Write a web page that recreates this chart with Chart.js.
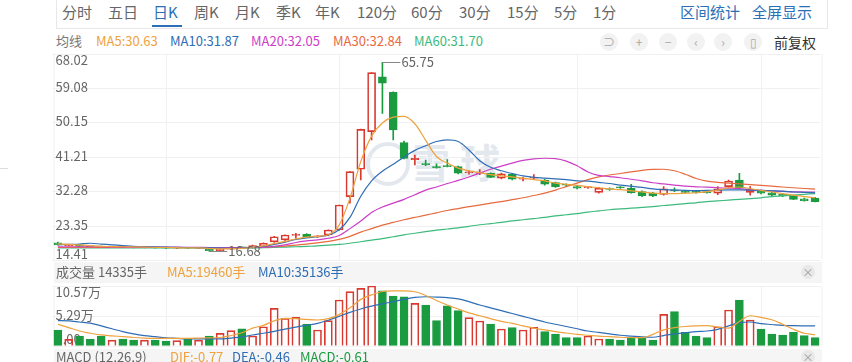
<!DOCTYPE html>
<html lang="zh-CN">
<head>
<meta charset="utf-8">
<title>日K</title>
<script src="https://cdn.jsdelivr.net/npm/chart.js@4.4.1/dist/chart.umd.min.js"></script>
<style>
  html, body { margin: 0; padding: 0; background: #fff; }
  body { width: 852px; height: 362px; position: relative; overflow: hidden;
         font-family: "Noto Sans CJK SC", "Noto Sans", sans-serif; color: #666; }
  .t { position: absolute; white-space: nowrap; }
  #tabs { position: absolute; left: 56px; top: 0; width: 772px; height: 29px;
          border: 1px solid #e8e8e8; border-top: 0; box-sizing: border-box; }
  .tab { top: 0; font-size: 15px; line-height: 24px; color: #666; }
  .blue { color: #2b6fb6; }
  #underline { position: absolute; left: 152px; top: 25px; width: 30px; height: 2px; background: #2b6fb6; }
  .ma { top: 32px; font-size: 13px; line-height: 18px; }
  .icon { position: absolute; width: 18px; height: 18px; border-radius: 9px; background: #f2f2f2;
          color: #a8a8a8; font-size: 12px; line-height: 18px; text-align: center; top: 33px; }
  .band { position: absolute; left: 54px; width: 768px; background: #f5f5f5; }
  .hd { font-size: 13px; line-height: 19px; }
  .close { position: absolute; width: 14px; height: 14px; border-radius: 7px; background: #e8e8e8;
           color: #999; font-size: 11px; line-height: 14px; text-align: center; }
  canvas { position: absolute; left: 0; }
  #kline { top: 45px; }
  #vol { top: 284px; }
  #ring { position: absolute; left: 366px; top: 142px; width: 36px; height: 36px; border-radius: 22px;
          border: 4px solid #e3e8ef; }
  #mark { left: 410px; top: 136px; font-size: 40px; line-height: 50px; color: #e3e8ef;
          font-weight: bold; letter-spacing: 10px; }
</style>
</head>
<body>
<div id="tabs"></div>
<span class="t tab" style="left:62px">分时</span>
<span class="t tab" style="left:108px">五日</span>
<span class="t tab blue" style="left:153px">日K</span>
<span class="t tab" style="left:194px">周K</span>
<span class="t tab" style="left:235px">月K</span>
<span class="t tab" style="left:276px">季K</span>
<span class="t tab" style="left:315px">年K</span>
<span class="t tab" style="left:357px">120分</span>
<span class="t tab" style="left:411px">60分</span>
<span class="t tab" style="left:459px">30分</span>
<span class="t tab" style="left:507px">15分</span>
<span class="t tab" style="left:554px">5分</span>
<span class="t tab" style="left:593px">1分</span>
<span class="t tab blue" style="left:680px">区间统计</span>
<span class="t tab blue" style="left:752px">全屏显示</span>
<div id="underline"></div>

<span class="t ma" style="left:56px;color:#777">均线</span>
<span class="t ma" id="ma5-txt" style="left:96px;color:#eea23e"></span>
<span class="t ma" id="ma10-txt" style="left:170px;color:#2f6db5"></span>
<span class="t ma" id="ma20-txt" style="left:251px;color:#cc3ec6"></span>
<span class="t ma" id="ma30-txt" style="left:333px;color:#e86a3f"></span>
<span class="t ma" id="ma60-txt" style="left:414px;color:#3dba7e"></span>
<span class="icon" style="left:600px">⊃</span>
<span class="icon" style="left:630px">+</span>
<span class="icon" style="left:659px">−</span>
<span class="icon" style="left:687px">‹</span>
<span class="icon" style="left:714px">›</span>
<span class="icon" style="left:744px">▯</span>
<span class="t" style="left:774px;top:32px;font-size:14px;line-height:20px;color:#333">前复权</span>

<div style="position:absolute;left:0;top:168px;width:8px;height:1px;background:#ddd"></div>
<div id="ring"></div>
<span class="t" id="mark">雪球</span>

<canvas id="kline" width="852" height="220"></canvas>

<div class="band" style="top:262px;height:21px"></div>
<span class="t hd" id="vol-txt" style="left:56px;top:262px;color:#666"></span>
<span class="t hd" id="vma5-txt" style="left:167px;top:262px;color:#eea23e"></span>
<span class="t hd" id="vma10-txt" style="left:258px;top:262px;color:#2f6db5"></span>
<span class="close" style="left:801px;top:265px">×</span>

<canvas id="vol" width="852" height="66"></canvas>

<div class="band" style="top:349px;height:14px"></div>
<span class="t hd" style="left:56px;top:347px;color:#666">MACD (12,26,9)</span>
<span class="t hd" style="left:170px;top:347px;color:#eea23e">DIF:-0.77</span>
<span class="t hd" style="left:232px;top:347px;color:#2f6db5">DEA:-0.46</span>
<span class="t hd" style="left:300px;top:347px;color:#1b9b40">MACD:-0.61</span>
<span class="close" style="left:801px;top:350px">×</span>

<script>
// daily candles, oldest first
const opens = [18.9, 18.2, 18.4, 18.1, 17.95, 17.8, 17.9, 17.8, 17.7, 17.8,
  17.6, 17.5, 17.6, 17.5, 17.2, 16.9, 17.3, 17.8, 17.6, 17.9,
  19.2, 19.7, 20.85, 21.1, 20.45, 20.95, 22.24, 30.9, 38.0, 47.74,
  62.0, 57.96, 44.89, 40.5, 39.4, 38.6, 38.9, 38.66, 37.1, 36.9,
  36.95, 35.7, 36.7, 35.4, 35.7, 35.21, 34.53, 34.0, 33.5, 33.2,
  32.0, 33.0, 33.25, 33.06, 32.2, 31.8, 31.5, 32.6, 32.15, 32.15,
  32.1, 31.8, 33.5, 35.2, 32.0, 32.4, 31.9, 31.5, 31.06, 30.3, 30.5];
const highs = [19.1, 18.5, 18.5, 18.2, 18.1, 18.0, 18.0, 17.9, 17.9, 17.9,
  17.7, 17.7, 17.7, 17.7, 17.3, 17.4, 17.9, 17.9, 18.3, 18.9,
  20.6, 21.0, 21.4, 21.3, 20.8, 22.3, 28.73, 37.4, 48.4, 63.04,
  65.75, 58.1, 45.33, 41.7, 40.4, 39.4, 40.5, 38.8, 37.6, 37.9,
  37.1, 37.0, 36.9, 35.9, 36.6, 35.4, 34.7, 34.2, 33.7, 33.6,
  33.3, 33.2, 33.5, 34.1, 32.4, 32.0, 33.5, 33.2, 32.4, 32.3,
  32.3, 33.5, 35.2, 36.95, 33.5, 32.6, 32.1, 31.7, 31.2, 30.5, 30.7];
const lows = [18.3, 18.1, 17.9, 17.8, 17.7, 17.7, 17.7, 17.6, 17.6, 17.5,
  17.4, 17.4, 17.4, 17.4, 16.68, 16.8, 17.2, 17.5, 17.5, 17.8,
  19.0, 19.5, 20.1, 20.4, 20.3, 20.8, 22.2, 29.2, 35.2, 45.6,
  52.5, 45.6, 40.7, 39.1, 38.9, 38.3, 38.6, 36.8, 36.7, 36.6,
  35.8, 35.5, 35.2, 35.0, 35.4, 33.9, 33.3, 33.7, 32.9, 33.0,
  31.8, 32.5, 33.0, 31.8, 30.9, 30.9, 31.3, 32.2, 31.8, 31.8,
  31.8, 31.4, 33.3, 32.9, 31.3, 31.6, 31.1, 30.9, 30.1, 29.7, 29.5];
const closes = [18.4, 18.4, 18.0, 17.9, 17.8, 17.9, 17.8, 17.7, 17.8, 17.6,
  17.5, 17.6, 17.5, 17.6, 16.85, 17.3, 17.8, 17.6, 18.2, 18.8,
  20.5, 20.95, 20.95, 20.5, 20.6, 22.24, 28.73, 37.37, 48.36, 63.04,
  60.3, 48.18, 40.84, 40.8, 39.2, 38.4, 38.7, 36.95, 37.3, 37.05,
  35.9, 36.8, 35.4, 35.55, 35.85, 34.1, 33.48, 33.85, 33.06, 33.35,
  33.06, 32.75, 33.15, 31.92, 31.14, 31.1, 32.9, 32.4, 32.0, 32.0,
  31.95, 32.9, 34.95, 33.06, 32.8, 31.8, 31.3, 31.06, 30.2, 29.85, 29.6];

// moving averages as drawn on the chart
const ma5 = [18.6, 18.5, 18.4, 18.2, 18.0, 17.95, 17.9, 17.85, 17.8, 17.75,
  17.7, 17.65, 17.6, 17.6, 17.45, 17.35, 17.4, 17.5, 17.7, 18.1,
  18.7, 19.3, 19.9, 20.4, 20.6, 21.0, 23.5, 30.5, 40.0, 46.6,
  50.0, 51.5, 51.7, 49.8, 45.5, 41.3, 39.6, 38.3, 37.6, 37.1,
  36.6, 36.3, 36.0, 35.7, 35.3, 35.0, 34.4, 34.1, 33.8, 33.5,
  33.2, 32.9, 32.7, 32.4, 32.1, 31.8, 31.7, 31.7, 31.8, 31.9,
  32.2, 32.6, 33.2, 33.4, 33.0, 32.5, 32.1, 31.7, 31.3, 30.9, 30.63];
const ma10 = [18.4, 18.5, 18.6, 18.8, 18.6, 18.4, 18.2, 18.0, 17.9, 17.85,
  17.8, 17.75, 17.7, 17.65, 17.6, 17.55, 17.5, 17.55, 17.7, 18.0,
  18.5, 19.1, 19.8, 20.2, 20.5, 20.9, 22.3, 25.5, 31.0, 35.0,
  37.5, 39.3, 41.2, 42.9, 44.1, 45.2, 45.6, 45.2, 43.0, 40.2,
  38.5, 37.6, 36.9, 36.3, 35.9, 35.7, 35.5, 35.3, 35.0, 34.9,
  34.6, 34.3, 33.9, 33.6, 33.3, 32.9, 32.7, 32.6, 32.5, 32.45,
  32.5, 32.6, 32.65, 32.65, 32.6, 32.5, 32.4, 32.3, 32.1, 32.0, 31.87];
const ma20 = [17.9, 17.9, 17.9, 17.9, 17.9, 17.85, 17.85, 17.8, 17.8, 17.8,
  17.8, 17.8, 17.75, 17.75, 17.7, 17.7, 17.7, 17.7, 17.7, 17.8,
  18.0, 18.4, 19.0, 19.4, 19.7, 20.1, 20.8, 22.6, 24.6, 26.8,
  28.2, 29.2, 30.2, 31.4, 32.6, 33.4, 34.3, 35.1, 36.0, 37.0,
  38.0, 38.8, 39.6, 40.3, 40.7, 40.85, 40.75, 40.1, 38.9, 37.3,
  36.4, 36.1, 35.8, 35.4, 35.0, 34.5, 34.2, 33.9, 33.6, 33.45,
  33.35, 33.2, 33.1, 33.0, 32.7, 32.55, 32.4, 32.25, 32.15, 32.1, 32.05];
const ma30 = [17.7, 17.7, 17.7, 17.7, 17.7, 17.7, 17.7, 17.7, 17.7, 17.7,
  17.7, 17.7, 17.7, 17.7, 17.7, 17.7, 17.7, 17.7, 17.75, 17.8,
  17.9, 18.05, 18.3, 18.6, 18.9, 19.3, 19.8, 20.6, 21.7, 22.6,
  23.5, 24.2, 24.9, 25.5, 26.1, 26.7, 27.3, 27.8, 28.3, 28.7,
  29.2, 29.6, 30.1, 30.6, 31.2, 31.8, 32.6, 33.5, 34.4, 35.3,
  36.0, 36.5, 36.9, 37.3, 37.7, 37.95, 38.0, 37.6, 36.7, 35.6,
  34.9, 34.6, 34.4, 34.2, 34.0, 33.8, 33.6, 33.4, 33.2, 33.0, 32.84];
const ma60 = [17.6, 17.6, 17.6, 17.6, 17.6, 17.6, 17.6, 17.6, 17.6, 17.6,
  17.6, 17.6, 17.6, 17.6, 17.6, 17.6, 17.6, 17.6, 17.6, 17.65,
  17.7, 17.8, 17.9, 18.0, 18.1, 18.3, 18.5, 18.8, 19.2, 19.6,
  20.0, 20.5, 21.0, 21.4, 21.8, 22.2, 22.5, 22.8, 23.2, 23.6,
  23.9, 24.2, 24.6, 24.9, 25.2, 25.5, 25.9, 26.2, 26.5, 26.9,
  27.2, 27.5, 27.7, 27.9, 28.1, 28.3, 28.6, 28.8, 29.1, 29.3,
  29.6, 29.8, 30.0, 30.2, 30.4, 30.6, 30.9, 31.1, 31.3, 31.5, 31.7];

// volume in 万手
const volumes = [2.78, 1.13, 1.72, 1.13, 1.72, 1.0, 1.19, 1.0, 1.0, 1.0,
  0.83, 0.9, 1.13, 1.0, 1.72, 2.19, 2.66, 3.0, 1.72, 3.36,
  6.6, 4.85, 5.02, 3.84, 2.78, 4.43, 8.09, 9.56, 10.16, 10.57,
  9.73, 8.8, 8.67, 7.5, 7.2, 4.43, 7.08, 6.2, 4.96, 4.37,
  3.84, 2.96, 3.19, 2.78, 3.26, 2.48, 2.07, 1.42, 1.42, 1.72,
  1.19, 1.19, 1.0, 1.42, 1.31, 1.0, 5.56, 6.02, 2.37, 1.72,
  1.42, 3.36, 6.32, 8.09, 4.55, 2.96, 2.07, 1.89, 2.37, 1.77, 1.4335];
const volMa5 = [3.8, 3.2, 2.6, 2.2, 1.9, 1.75, 1.6, 1.45, 1.35, 1.3,
  1.3, 1.3, 1.3, 1.35, 1.4, 1.45, 1.8, 2.3, 3.1, 3.6,
  4.4, 4.85, 4.8, 4.65, 4.55, 4.8, 5.5, 6.7, 8.2, 9.0,
  9.6, 9.7, 9.7, 9.55, 8.9, 8.0, 7.2, 6.5, 5.8, 5.3,
  4.8, 4.3, 3.95, 3.5, 3.1, 2.8, 2.5, 2.25, 2.0, 1.85,
  1.7, 1.6, 1.5, 1.45, 1.42, 2.0, 2.8, 3.2, 3.4, 3.5,
  3.55, 3.3, 3.1, 4.3, 5.3, 5.0, 4.6, 3.8, 2.9, 2.2, 1.946];
const volMa10 = [4.45, 4.4, 4.2, 4.0, 3.5, 3.0, 2.5, 2.1, 1.8, 1.6,
  1.4, 1.3, 1.2, 1.2, 1.2, 1.2, 1.35, 1.55, 1.9, 2.2,
  2.55, 2.95, 3.3, 3.6, 3.95, 4.5, 5.2, 5.9, 6.5, 7.0,
  7.4, 7.8, 8.2, 8.55, 8.67, 8.6, 8.5, 8.3, 7.8, 7.2,
  6.7, 6.2, 5.7, 5.2, 4.7, 4.2, 3.8, 3.4, 3.0, 2.6,
  2.35, 2.1, 1.85, 1.7, 1.55, 1.5, 1.8, 2.1, 2.3, 2.5,
  2.6, 2.9, 3.5, 4.1, 4.2, 3.9, 3.75, 3.6, 3.54, 3.52, 3.5136];

const priceTicks = [14.41, 23.35, 32.28, 41.21, 50.15, 59.08, 68.02];
const priceTickLabels = ['14.41', '23.35', '32.28', '41.21', '50.15', '59.08', '68.02'];
const volTicks = [0, 5.29, 10.57];
const volTickLabels = ['0.00', '5.29万', '10.57万'];
const monthStarts = [10, 26, 48, 65];

const days = opens.map((_, i) => String(i + 1));
const RED = '#d9392f';
const GREEN = '#1b9b40';
const COLORS = { ma5: '#eea23e', ma10: '#2f6db5', ma20: '#cc3ec6', ma30: '#e86a3f', ma60: '#3dba7e' };

const up = closes.map((c, i) => c >= opens[i]);
const candleColors = up.map(u => (u ? RED : GREEN));
const hollowFill = up.map(u => (u ? 'rgba(255,255,255,0)' : GREEN));

// header texts
const setText = (id, txt) => { document.getElementById(id).textContent = txt; };
setText('ma5-txt', 'MA5:' + ma5[ma5.length - 1].toFixed(2));
setText('ma10-txt', 'MA10:' + ma10[ma10.length - 1].toFixed(2));
setText('ma20-txt', 'MA20:' + ma20[ma20.length - 1].toFixed(2));
setText('ma30-txt', 'MA30:' + ma30[ma30.length - 1].toFixed(2));
setText('ma60-txt', 'MA60:' + ma60[ma60.length - 1].toFixed(2));
setText('vol-txt', '成交量 ' + Math.round(volumes[volumes.length - 1] * 10000) + '手');
setText('vma5-txt', 'MA5:' + Math.round(volMa5[volMa5.length - 1] * 10000) + '手');
setText('vma10-txt', 'MA10:' + Math.round(volMa10[volMa10.length - 1] * 10000) + '手');

const FONT = '13px "Noto Sans CJK SC", "Noto Sans", sans-serif';

// grid lines and in-chart tick labels
function paneAxis(ticks, labels) {
  return {
    id: 'paneAxis',
    beforeDatasetsDraw(chart) {
      const { ctx, chartArea: a, scales: { x, y } } = chart;
      ctx.save();
      ctx.strokeStyle = '#f0f0f0';
      ctx.lineWidth = 1;
      ctx.beginPath();
      ticks.forEach(v => {
        const py = Math.round(y.getPixelForValue(v)) + 0.5;
        ctx.moveTo(a.left, py);
        ctx.lineTo(a.right, py);
      });
      monthStarts.forEach(i => {
        const px = Math.round(x.getPixelForValue(i)) + 0.5;
        ctx.moveTo(px, a.top);
        ctx.lineTo(px, a.bottom);
      });
      ctx.moveTo(a.left + 1.5, a.top);
      ctx.lineTo(a.left + 1.5, a.bottom);
      ctx.moveTo(a.right + 1.5, a.top);
      ctx.lineTo(a.right + 1.5, a.bottom);
      ctx.stroke();

      ctx.fillStyle = '#666';
      ctx.font = FONT;
      ctx.textAlign = 'left';
      ticks.forEach((v, k) => {
        let py = y.getPixelForValue(v);
        if (k === 0) {
          ctx.textBaseline = 'bottom';
        } else if (k === ticks.length - 1) {
          ctx.textBaseline = 'top';
        } else {
          ctx.textBaseline = 'middle';
          py -= 1;
        }
        ctx.fillText(labels[k], a.left + 3, py);
      });
      ctx.restore();
    }
  };
}

// labels for highest high and lowest low
const extremes = {
  id: 'extremes',
  afterDatasetsDraw(chart) {
    const { ctx, scales: { x, y } } = chart;
    const hi = Math.max(...highs);
    const lo = Math.min(...lows);
    ctx.save();
    ctx.strokeStyle = '#888';
    ctx.fillStyle = '#666';
    ctx.lineWidth = 1;
    ctx.font = FONT;
    ctx.textBaseline = 'middle';
    [[highs.indexOf(hi), hi], [lows.indexOf(lo), lo]].forEach(([i, v]) => {
      const px = x.getPixelForValue(i);
      const py = Math.round(y.getPixelForValue(v)) + 0.5;
      ctx.beginPath();
      ctx.moveTo(px, py);
      ctx.lineTo(px + 18, py);
      ctx.stroke();
      ctx.fillText(v.toFixed(2), px + 19, py);
    });
    ctx.restore();
  }
};

function maLine(data, color) {
  return {
    type: 'line',
    data,
    borderColor: color,
    borderWidth: 1.2,
    pointRadius: 0,
    tension: 0.4,
    cubicInterpolationMode: 'monotone',
    order: 0
  };
}

const baseOptions = (yMin, yMax, padding) => ({
  responsive: false,
  animation: false,
  events: [],
  layout: { padding },
  plugins: { legend: { display: false }, tooltip: { enabled: false } },
  scales: {
    x: { display: false, offset: true },
    y: { display: false, min: yMin, max: yMax }
  }
});

new Chart(document.getElementById('kline'), {
  type: 'bar',
  data: {
    labels: days,
    datasets: [
      maLine(ma5, COLORS.ma5),
      maLine(ma10, COLORS.ma10),
      maLine(ma20, COLORS.ma20),
      maLine(ma30, COLORS.ma30),
      maLine(ma60, COLORS.ma60),
      {
        data: highs.map((h, i) => [Math.max(opens[i], closes[i]), h]),
        backgroundColor: candleColors,
        barThickness: 1,
        grouped: false,
        order: 2
      },
      {
        data: lows.map((l, i) => [l, Math.min(opens[i], closes[i])]),
        backgroundColor: candleColors,
        barThickness: 1,
        grouped: false,
        order: 2
      },
      {
        data: opens.map((o, i) => [o, closes[i]]),
        backgroundColor: hollowFill,
        borderColor: candleColors,
        borderWidth: 1,
        borderSkipped: false,
        barThickness: 8,
        minBarLength: 1,
        grouped: false,
        order: 1
      }
    ]
  },
  options: baseOptions(priceTicks[0], priceTicks[priceTicks.length - 1],
    { left: 52.5, right: 31.5, top: 8.5, bottom: 4.8 }),
  plugins: [paneAxis(priceTicks, priceTickLabels), extremes]
});

new Chart(document.getElementById('vol'), {
  type: 'bar',
  data: {
    labels: days,
    datasets: [
      maLine(volMa5, COLORS.ma5),
      maLine(volMa10, COLORS.ma10),
      {
        data: volumes,
        backgroundColor: hollowFill,
        borderColor: candleColors,
        borderWidth: 1,
        barThickness: 8,
        order: 1
      }
    ]
  },
  options: baseOptions(volTicks[0], volTicks[volTicks.length - 1],
    { left: 52.5, right: 31.5, top: 2, bottom: 4.3 }),
  plugins: [paneAxis(volTicks, volTickLabels)]
});
</script>
</body>
</html>
